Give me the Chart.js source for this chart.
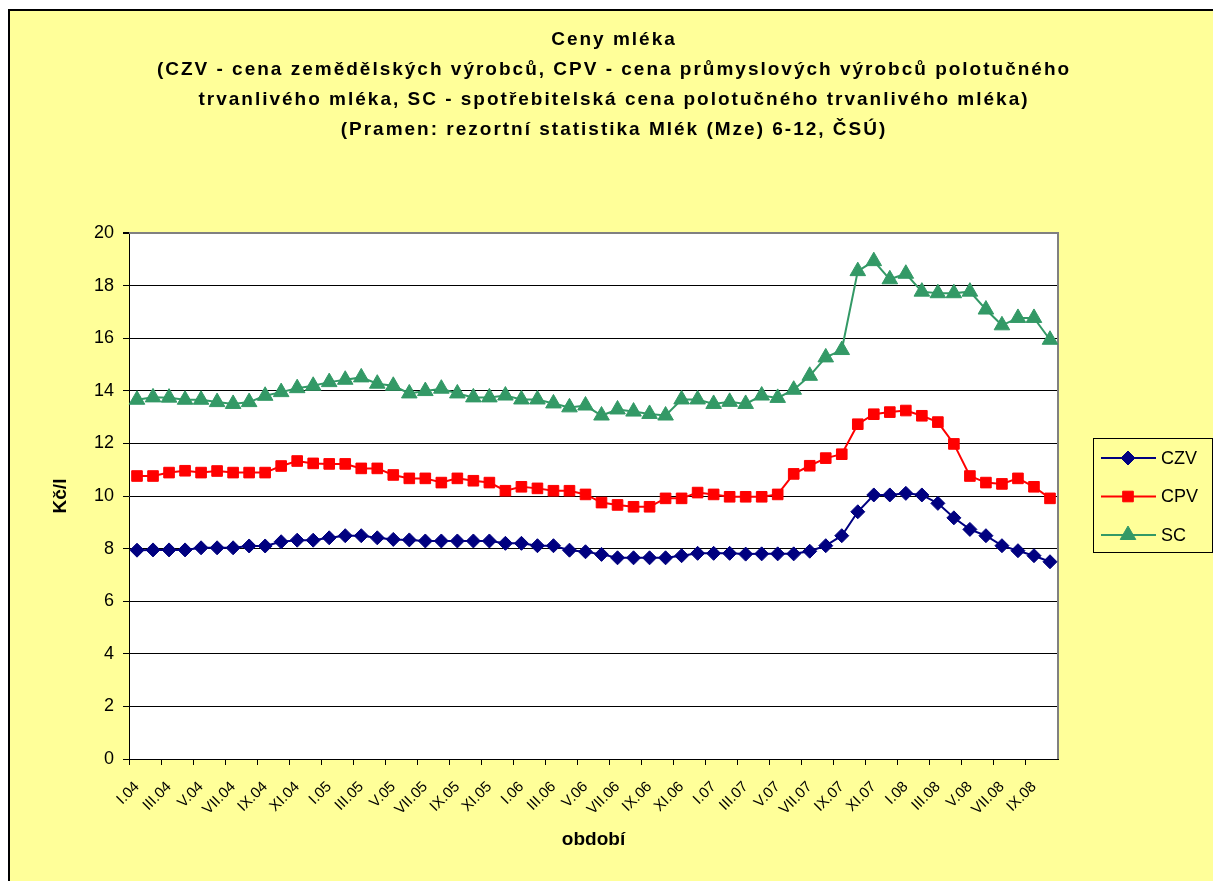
<!DOCTYPE html>
<html>
<head>
<meta charset="utf-8">
<script src="https://cdn.jsdelivr.net/npm/chart.js@4.4.1/dist/chart.umd.min.js"></script>
<style>
  html, body { margin: 0; padding: 0; background: #fff; }
  #frame { position: absolute; left: 8px; top: 9px; width: 1205px; height: 872px; background: #ffff99;
           border-top: 2px solid #000; border-left: 2px solid #000; box-sizing: border-box; }
  #wrap { position: absolute; left: 0; top: 0; width: 1213px; height: 881px; }
</style>
</head>
<body>
<div id="frame"></div>
<div id="wrap"><canvas id="chart" width="1213" height="881"></canvas></div>
<script>
var titleLines = [
  'Ceny mléka',
  '(CZV - cena zemědělských výrobců, CPV - cena průmyslových výrobců polotučného',
  'trvanlivého mléka, SC - spotřebitelská cena polotučného trvanlivého mléka)',
  '(Pramen: rezortní statistika Mlék (Mze) 6-12, ČSÚ)'
];

var months = [
  'I.04', 'II.04', 'III.04', 'IV.04', 'V.04', 'VI.04', 'VII.04', 'VIII.04', 'IX.04', 'X.04', 'XI.04', 'XII.04',
  'I.05', 'II.05', 'III.05', 'IV.05', 'V.05', 'VI.05', 'VII.05', 'VIII.05', 'IX.05', 'X.05', 'XI.05', 'XII.05',
  'I.06', 'II.06', 'III.06', 'IV.06', 'V.06', 'VI.06', 'VII.06', 'VIII.06', 'IX.06', 'X.06', 'XI.06', 'XII.06',
  'I.07', 'II.07', 'III.07', 'IV.07', 'V.07', 'VI.07', 'VII.07', 'VIII.07', 'IX.07', 'X.07', 'XI.07', 'XII.07',
  'I.08', 'II.08', 'III.08', 'IV.08', 'V.08', 'VI.08', 'VII.08', 'VIII.08', 'IX.08', 'X.08'
];

var czv = [
  7.94, 7.95, 7.95, 7.95, 8.03, 8.03, 8.03, 8.10, 8.10, 8.26,
  8.32, 8.32, 8.41, 8.49, 8.49, 8.41, 8.35, 8.33, 8.29, 8.29,
  8.29, 8.29, 8.29, 8.20, 8.20, 8.11, 8.11, 7.94, 7.88, 7.78,
  7.65, 7.65, 7.65, 7.65, 7.73, 7.82, 7.82, 7.82, 7.79, 7.80,
  7.80, 7.80, 7.90, 8.11, 8.49, 9.40, 10.04, 10.04, 10.10, 10.04,
  9.72, 9.17, 8.73, 8.49, 8.11, 7.92, 7.73, 7.50
];

var cpv = [
  10.76, 10.76, 10.89, 10.96, 10.89, 10.95, 10.89, 10.89, 10.89, 11.14,
  11.33, 11.24, 11.22, 11.22, 11.05, 11.05, 10.80, 10.67, 10.67, 10.51,
  10.67, 10.58, 10.51, 10.20, 10.35, 10.29, 10.20, 10.20, 10.06, 9.75,
  9.66, 9.59, 9.59, 9.91, 9.91, 10.13, 10.06, 9.97, 9.97, 9.97,
  10.06, 10.84, 11.15, 11.44, 11.59, 12.73, 13.11, 13.19, 13.25, 13.05,
  12.81, 11.98, 10.76, 10.51, 10.46, 10.67, 10.35, 9.91
];

var sc = [
  13.66, 13.75, 13.74, 13.66, 13.66, 13.57, 13.50, 13.57, 13.81, 13.95,
  14.10, 14.19, 14.33, 14.42, 14.51, 14.27, 14.19, 13.90, 13.99, 14.08,
  13.90, 13.75, 13.75, 13.82, 13.67, 13.67, 13.52, 13.37, 13.44, 13.06,
  13.29, 13.21, 13.12, 13.06, 13.67, 13.67, 13.50, 13.58, 13.50, 13.82,
  13.73, 14.04, 14.57, 15.27, 15.55, 18.55, 18.93, 18.24, 18.45, 17.77,
  17.71, 17.71, 17.77, 17.09, 16.49, 16.77, 16.77, 15.94
];

var FONT = 'Arial, "Liberation Sans", sans-serif';
Chart.defaults.font.family = FONT;
Chart.defaults.color = '#000';

// white plot area + gray top/right frame like Excel
var plotFrame = {
  id: 'plotFrame',
  beforeDraw: function(chart) {
    var a = chart.chartArea, ctx = chart.ctx;
    ctx.save();
    ctx.fillStyle = '#fff';
    ctx.fillRect(a.left, a.top, a.right - a.left, a.bottom - a.top);
    ctx.restore();
  },
  beforeDatasetsDraw: function(chart) {
    var a = chart.chartArea, ctx = chart.ctx;
    ctx.save();
    ctx.strokeStyle = '#808080';
    ctx.lineWidth = 2;
    ctx.beginPath();
    ctx.moveTo(a.left, a.top);
    ctx.lineTo(a.right, a.top);
    ctx.lineTo(a.right, a.bottom);
    ctx.stroke();
    ctx.restore();
  }
};

var spacedTitle = {
  id: 'spacedTitle',
  afterDraw: function(chart) {
    var ctx = chart.ctx;
    ctx.save();
    ctx.font = 'bold 19px ' + FONT;
    ctx.fillStyle = '#000';
    ctx.textAlign = 'center';
    ctx.textBaseline = 'middle';
    ctx.letterSpacing = '2px';
    titleLines.forEach(function(t, i) {
      ctx.fillText(t, 614, 40 + i * 30);
    });
    ctx.restore();
  }
};

var legendBox = {
  id: 'legendBox',
  afterDraw: function(chart) {
    var ctx = chart.ctx;
    var a = chart.chartArea;
    var x0 = a.right + 35, y0 = 438, w = 119, h = 114;
    ctx.save();
    ctx.strokeStyle = '#000';
    ctx.lineWidth = 1;
    ctx.strokeRect(x0 + 0.5, y0 + 0.5, w, h);
    ctx.font = '18px ' + FONT;
    ctx.textBaseline = 'middle';
    chart.data.datasets.forEach(function(ds, i) {
      var y = y0 + 20 + i * 38.5;
      ctx.strokeStyle = ds.borderColor;
      ctx.fillStyle = ds.backgroundColor;
      ctx.lineWidth = 2;
      ctx.beginPath();
      ctx.moveTo(x0 + 8, y);
      ctx.lineTo(x0 + 63, y);
      ctx.stroke();
      ctx.lineWidth = 1;
      Chart.helpers.drawPoint(ctx, { pointStyle: ds.pointStyle, radius: ds.pointRadius, rotation: 0, borderWidth: 1 }, x0 + 35, y);
      ctx.fillStyle = '#000';
      ctx.fillText(ds.label, x0 + 68, y + 1);
    });
    ctx.restore();
  }
};

new Chart(document.getElementById('chart'), {
  type: 'line',
  data: {
    labels: months,
    datasets: [
      { label: 'CZV', data: czv, borderColor: '#000080', backgroundColor: '#000080', pointStyle: 'rectRot', pointRadius: 7, borderWidth: 2, pointBorderWidth: 1 },
      { label: 'CPV', data: cpv, borderColor: '#ff0000', backgroundColor: '#ff0000', pointStyle: 'rect', pointRadius: 7.5, borderWidth: 2, pointBorderWidth: 1 },
      { label: 'SC', data: sc, borderColor: '#339966', backgroundColor: '#339966', pointStyle: 'triangle', pointRadius: 9, borderWidth: 2, pointBorderWidth: 1 }
    ]
  },
  options: {
    responsive: false,
    animation: false,
    layout: { padding: { top: 233, right: 155, left: 0, bottom: 0 } },
    plugins: {
      legend: { display: false },
      title: { display: false },
      tooltip: { enabled: false }
    },
    elements: { line: { tension: 0 } },
    scales: {
      x: {
        offset: true,
        ticks: {
          autoSkip: false, maxRotation: 45, minRotation: 45, padding: 13,
          font: { size: 15 }, color: '#000',
          callback: function(v, i) { return i % 2 === 0 ? months[i] : ''; }
        },
        grid: {
          offset: true, drawOnChartArea: false, drawTicks: true, tickLength: 6,
          tickColor: function(c) { return c.index % 2 === 0 ? '#000' : 'rgba(0,0,0,0)'; }
        },
        border: { color: '#000', width: 1 },
        title: { display: true, text: 'období', color: '#000', font: { size: 19, weight: 'bold' }, padding: { top: 0, bottom: 30 } },
        afterFit: function(s) { s.height = 122; }
      },
      y: {
        min: 0, max: 20,
        ticks: { stepSize: 2, padding: 9, font: { size: 18 }, color: '#000' },
        grid: {
          color: function(c) { return c.tick && c.tick.value === 20 ? '#808080' : '#000'; },
          lineWidth: function(c) { return c.tick && c.tick.value === 20 ? 2 : 1; },
          tickColor: '#000', tickLength: 6
        },
        border: { color: '#000', width: 1 },
        title: { display: true, text: 'Kč/l', color: '#000', font: { size: 19, weight: 'bold' }, padding: { top: 49, bottom: 0 } },
        afterFit: function(s) { s.width = 129; }
      }
    }
  },
  plugins: [plotFrame, spacedTitle, legendBox]
});
</script>
</body>
</html>
